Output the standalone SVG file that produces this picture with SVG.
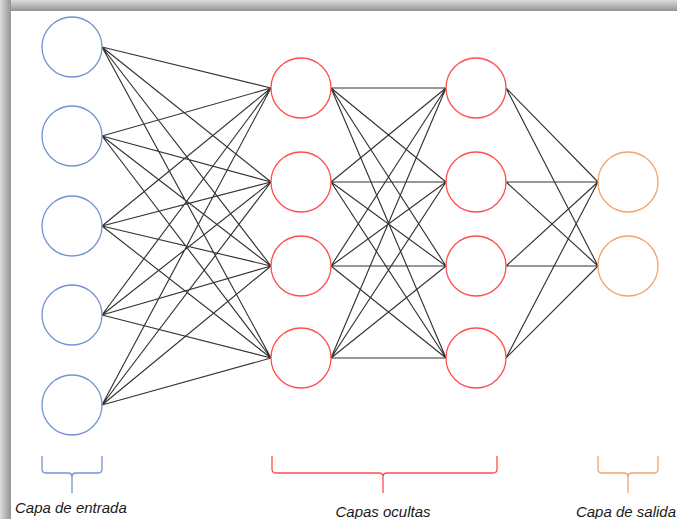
<svg xmlns="http://www.w3.org/2000/svg" width="677" height="519" viewBox="0 0 677 519">
  <defs>
    <linearGradient id="edgeTop" x1="0" y1="0" x2="0" y2="1">
      <stop offset="0" stop-color="#dcdcdc"/>
      <stop offset="1" stop-color="#939393"/>
    </linearGradient>
    <linearGradient id="edgeLeft" x1="0" y1="0" x2="1" y2="0">
      <stop offset="0" stop-color="#dcdcdc"/>
      <stop offset="1" stop-color="#939393"/>
    </linearGradient>
  </defs>
  <style>
    .edge { stroke: #333333; stroke-width: 1.15; fill: none; }
    .in { fill: #fff; stroke: #7393d3; stroke-width: 1.3; }
    .hid { fill: #fff; stroke: #ff4d4d; stroke-width: 1.3; }
    .out { fill: #fff; stroke: #f5a26a; stroke-width: 1.3; }
    .brace { fill: none; stroke-width: 1.3; }
    .label { font-family: "Liberation Sans", Arial, sans-serif; font-style: italic; font-size: 15px; fill: #1a1a1a; }
  </style>

  <!-- frame shadow along the top and left edges -->
  <rect x="0" y="0" width="677" height="519" fill="#ffffff"/>
  <rect x="0" y="0" width="677" height="11" fill="url(#edgeTop)"/>
  <rect x="0" y="0" width="11" height="519" fill="url(#edgeLeft)"/>

  <!-- connectors -->
  <g id="connectors">
    <!-- input layer to first hidden layer -->
    <path class="edge" d="M102 47L271 88M102 47L271 182M102 47L271 266M102 47L271 358
      M102 136L271 88M102 136L271 182M102 136L271 266M102 136L271 358
      M102 226L271 88M102 226L271 182M102 226L271 266M102 226L271 358
      M102 315L271 88M102 315L271 182M102 315L271 266M102 315L271 358
      M102 405L271 88M102 405L271 182M102 405L271 266M102 405L271 358"/>
    <!-- first hidden layer to second hidden layer -->
    <path class="edge" d="M331 88L446 88M331 88L446 182M331 88L446 266M331 88L446 358
      M331 182L446 88M331 182L446 182M331 182L446 266M331 182L446 358
      M331 266L446 88M331 266L446 182M331 266L446 266M331 266L446 358
      M331 358L446 88M331 358L446 182M331 358L446 266M331 358L446 358"/>
    <!-- second hidden layer to output layer -->
    <path class="edge" d="M506 88L598 182M506 88L598 266
      M506 182L598 182M506 182L598 266
      M506 266L598 182M506 266L598 266
      M506 358L598 182M506 358L598 266"/>
  </g>

  <!-- input layer -->
  <g id="input-1"><circle class="in" cx="72" cy="47" r="30"/></g>
  <g id="input-2"><circle class="in" cx="72" cy="136" r="30"/></g>
  <g id="input-3"><circle class="in" cx="72" cy="226" r="30"/></g>
  <g id="input-4"><circle class="in" cx="72" cy="315" r="30"/></g>
  <g id="input-5"><circle class="in" cx="72" cy="405" r="30"/></g>

  <!-- first hidden layer -->
  <g id="hidden1-1"><circle class="hid" cx="301" cy="88" r="30"/></g>
  <g id="hidden1-2"><circle class="hid" cx="301" cy="182" r="30"/></g>
  <g id="hidden1-3"><circle class="hid" cx="301" cy="266" r="30"/></g>
  <g id="hidden1-4"><circle class="hid" cx="301" cy="358" r="30"/></g>

  <!-- second hidden layer -->
  <g id="hidden2-1"><circle class="hid" cx="476" cy="88" r="30"/></g>
  <g id="hidden2-2"><circle class="hid" cx="476" cy="182" r="30"/></g>
  <g id="hidden2-3"><circle class="hid" cx="476" cy="266" r="30"/></g>
  <g id="hidden2-4"><circle class="hid" cx="476" cy="358" r="30"/></g>

  <!-- output layer -->
  <g id="output-1"><circle class="out" cx="628" cy="182" r="30"/></g>
  <g id="output-2"><circle class="out" cx="628" cy="266" r="30"/></g>

  <!-- layer braces and captions -->
  <g id="brace-input">
    <path class="brace" stroke="#7393d3" d="M42 456V469Q42 473 46 473H68Q72 473 72 477V493M72 477Q72 473 76 473H98Q102 473 102 469V456"/>
    <text class="label" x="15" y="513">Capa de entrada</text>
  </g>
  <g id="brace-hidden">
    <path class="brace" stroke="#ff4d4d" d="M272 456V469Q272 473 276 473H379Q383 473 383 477V493M383 477Q383 473 387 473H493Q497 473 497 469V456"/>
    <text class="label" x="383" y="517" text-anchor="middle">Capas ocultas</text>
  </g>
  <g id="brace-output">
    <path class="brace" stroke="#f5a26a" d="M598 456V469Q598 473 602 473H624Q628 473 628 477V493M628 477Q628 473 632 473H654Q658 473 658 469V456"/>
    <text class="label" x="676" y="517" text-anchor="end">Capa de salida</text>
  </g>
</svg>
